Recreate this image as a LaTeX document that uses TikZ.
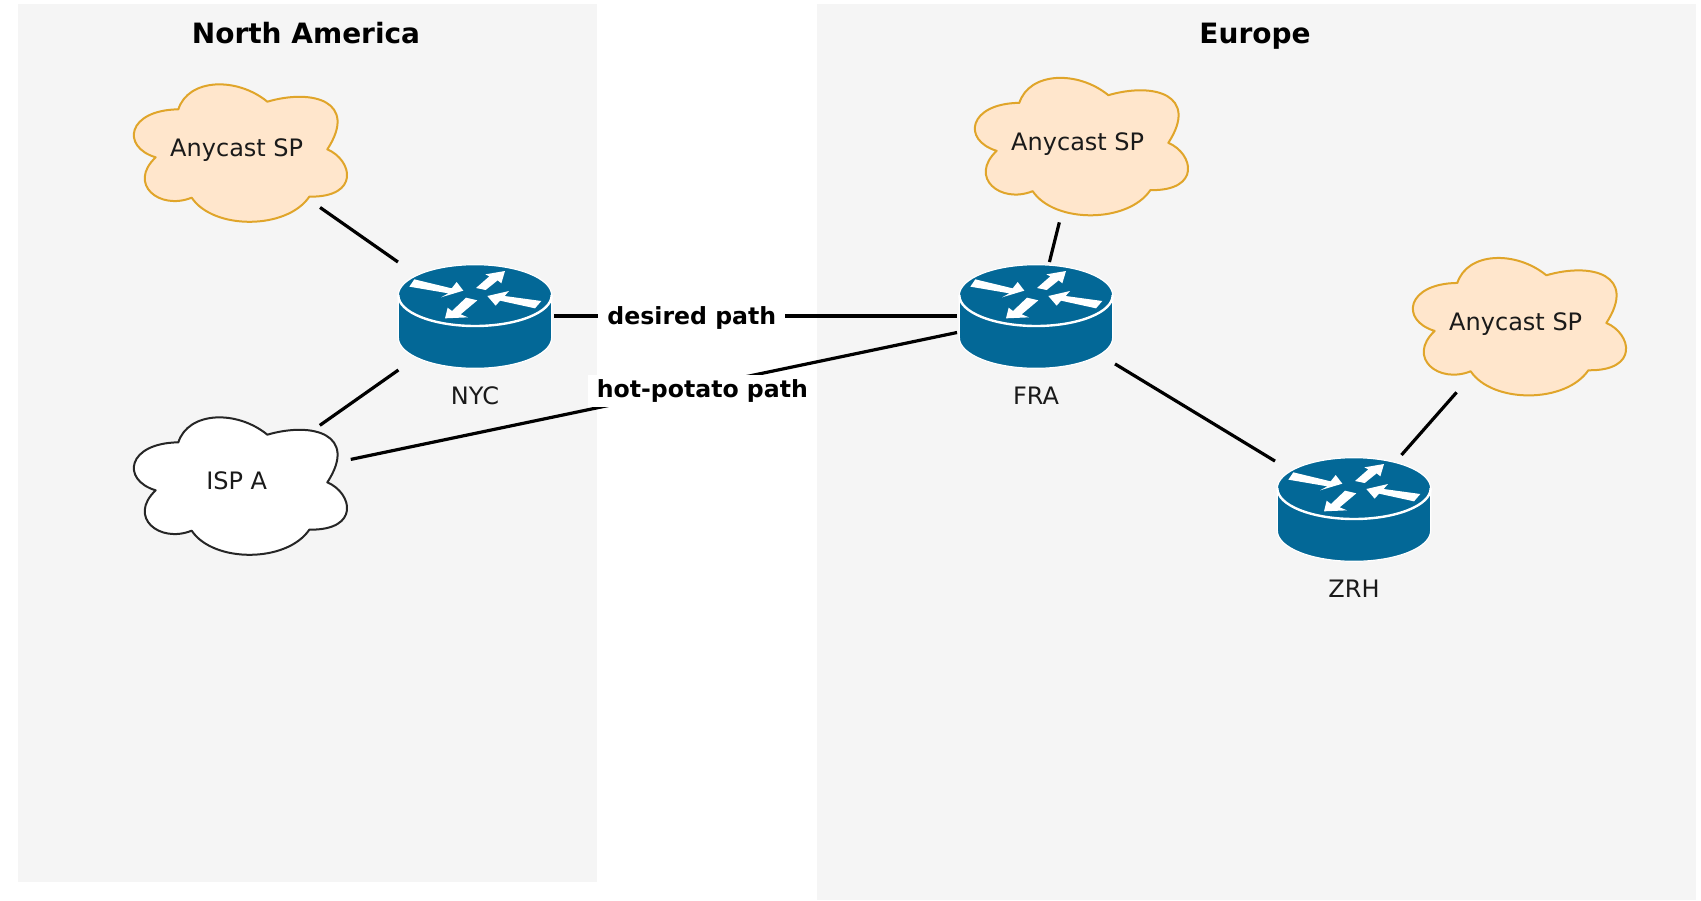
\documentclass[tikz,border=0pt]{standalone}
\usepackage{fontspec}
\setmainfont{DejaVu Sans}
\usetikzlibrary{shapes.geometric}
\definecolor{regionfill}{HTML}{F5F5F5}
\definecolor{routerblue}{HTML}{036897}
\definecolor{cloudfill}{HTML}{FFE6CC}
\definecolor{cloudline}{HTML}{E0A52A}
\definecolor{inktext}{HTML}{1A1A1A}
\tikzset{
  region/.style={fill=regionfill,draw=none},
  title/.style={font=\fontsize{14}{16}\selectfont\bfseries,text=black,inner sep=0pt,anchor=base},
  caption/.style={font=\fontsize{12}{14}\selectfont,text=inktext,inner sep=0pt,anchor=base},
  routerbox/.style={rectangle,minimum width=79pt,minimum height=54pt,inner sep=0pt,outer sep=0pt},
  cloudbox/.style={ellipse,minimum width=118pt,minimum height=80pt,inner sep=0pt,outer sep=0pt},
  link/.style={line width=1.6pt,black},
  pathlabel/.style={font=\fontsize{11.8}{14}\selectfont\bfseries,fill=white,text=black,inner xsep=4.5pt,inner ysep=2.5pt},
  cloudshape/.style={line width=1pt,line join=round},
}
\newcommand{\routerat}[5]{%
  % #1 name, #2 x, #3 y, #4 label, #5 label baseline y
  \begin{scope}[shift={(#2,#3+1)},x=0.16667pt,y=-0.16667pt]
    \fill[routerblue,draw=white,line width=0.6pt] (-230,-65)
      arc[start angle=180,end angle=360,x radius=230,y radius=92]
      -- (230,62) arc[start angle=0,end angle=180,x radius=230,y radius=92] -- cycle;
    \draw[white,line width=1.2pt] (-230,-65) arc[start angle=180,end angle=0,x radius=230,y radius=92];
    \fill[white] (-182,-113) -- (-70,-86) -- (-55,-105) -- (-35,-79) -- (-102,-59) -- (-80,-71) -- (-197,-91) -- cycle;
    \fill[white] (90,-138) -- (79,-101) -- (68,-110) -- (32,-81) -- (3,-87) -- (43,-122) -- (31,-128) -- cycle;
    \fill[white] (37,-63) -- (102,-78) -- (89,-63) -- (199,-48) -- (180,-26) -- (75,-49) -- (62,-34) -- cycle;
    \fill[white] (-90,4) -- (-82,-28) -- (-69,-18) -- (-27,-58) -- (7,-50) -- (-43,-8) -- (-21,1) -- cycle;
  \end{scope}
  \node[routerbox] (#1) at (#2,#3) {};
  \node[caption] (#1label) at (#2,#5) {#4};
}
\newcommand{\cloudat}[6]{%
  % #1 name, #2 dx, #3 dy, #4 fill, #5 stroke, #6 text
  \begin{scope}[shift={(110+#2,60+#3)},x=0.16667pt,y=-0.16667pt]
    \draw[cloudshape,fill=#4,draw=#5] (205,148)
      .. controls (235,55) and (380,50) .. (472,125)
      .. controls (610,85) and (745,125) .. (652,268)
      .. controls (727,300) and (752,412) .. (598,410)
      .. controls (530,510) and (310,510) .. (245,413)
      .. controls (148,452) and (52,372) .. (137,292)
      .. controls (32,260) and (52,150) .. (205,148) -- cycle;
  \end{scope}
  \node[cloudbox] (#1) at (238+#2,150+#3) {};
  \node[caption] (#1text) at (236.7+#2,156.75+#3) {#6};
}
\begin{document}
\begin{tikzpicture}[x=0.5pt,y=-0.5pt]
  \useasboundingbox (0,0) rectangle (1701,900);
  \fill[white] (0,0) rectangle (1701,900);
  \fill[region] (17.5,3.5) rectangle (597,882);
  \fill[region] (817,3.5) rectangle (1696,900);
  \node[title] (na) at (306,43.7) {North America};
  \node[title] (eu) at (1255,43.7) {Europe};

  \cloudat{spnyc}{0}{0}{cloudfill}{cloudline}{Anycast SP}
  \cloudat{ispa}{0}{333}{white}{black!85}{ISP A}
  \cloudat{spfra}{841}{-6.5}{cloudfill}{cloudline}{Anycast SP}
  \cloudat{spzrh}{1279}{173.6}{cloudfill}{cloudline}{Anycast SP}

  \routerat{nyc}{475}{316}{NYC}{404.75}
  \routerat{fra}{1036}{316}{FRA}{404.75}
  \routerat{zrh}{1354}{509}{ZRH}{597.75}

  \draw[link] (spnyc) -- (nyc);
  \draw[link] (nyc) -- (ispa);
  \draw[link] (spfra) -- (fra);
  \draw[link] (fra) -- (zrh);
  \draw[link] (zrh) -- (spzrh);
  \draw[link] (nyc) -- node[pathlabel,pos=0.342,yshift=-1pt] (desired) {desired path} (fra);
  \draw[link] (ispa) -- node[pathlabel,pos=0.58,yshift=-2.6pt] (hot) {hot-potato path} (fra);
\end{tikzpicture}
\end{document}
